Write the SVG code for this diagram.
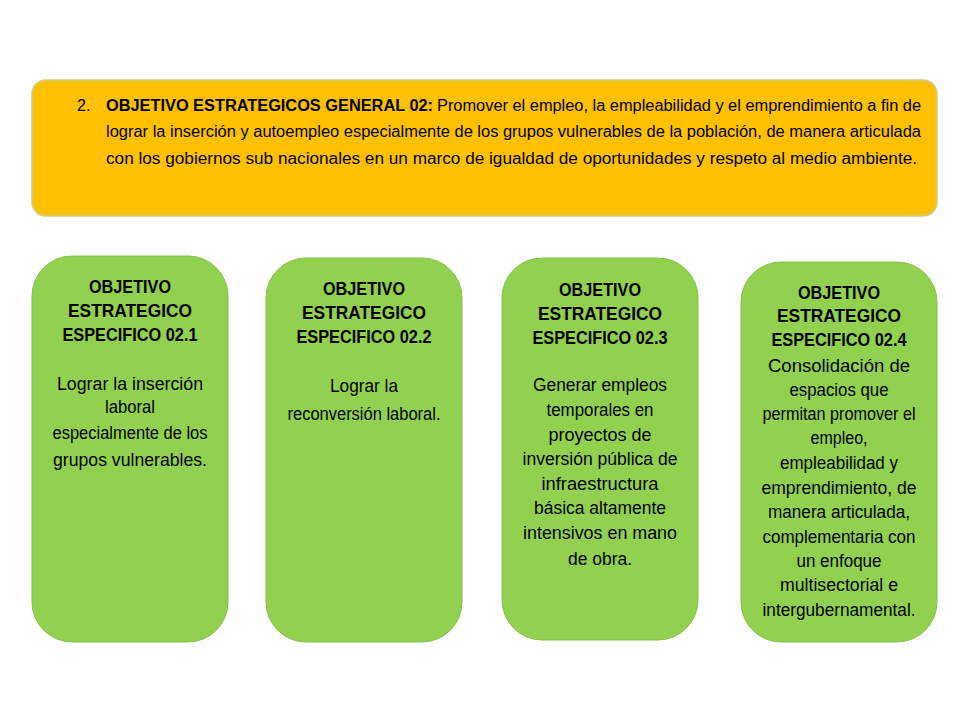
<svg xmlns="http://www.w3.org/2000/svg" width="960" height="720" viewBox="0 0 960 720">
<style>
.t{font-family:"Liberation Sans Narrow","Liberation Sans",Arial,sans-serif;fill:#000}
.top{font-size:16px}
.h{font-size:18px;font-weight:bold;text-anchor:middle}
.b{font-size:17.5px;text-anchor:middle}
.g{fill:#92D050;stroke:#86c04a;stroke-width:1}
</style>
<rect width="960" height="720" fill="#fff"/>
<g id="general">
<rect x="32" y="80" width="905" height="136" rx="14" fill="#FFC000" stroke="#c9cf8a" stroke-width="1.5"/>
<text class="t top" x="77" y="111">2.</text>
<text class="t top" x="106" y="111" font-weight="bold" textLength="327" lengthAdjust="spacingAndGlyphs">OBJETIVO ESTRATEGICOS GENERAL 02:</text>
<text class="t top" x="437" y="111" textLength="484" lengthAdjust="spacingAndGlyphs">Promover el empleo, la empleabilidad y el emprendimiento a fin de</text>
<text class="t top" x="106" y="137" textLength="815" lengthAdjust="spacingAndGlyphs">lograr la inserción y autoempleo especialmente de los grupos vulnerables de la población, de manera articulada</text>
<text class="t top" x="106" y="164" textLength="811" lengthAdjust="spacingAndGlyphs">con los gobiernos sub nacionales en un marco de igualdad de oportunidades y respeto al medio ambiente.</text>
</g>
<g id="oe21">
<rect class="g" x="32" y="256" width="196" height="386" rx="40"/>
<text class="t h" x="130" y="293" textLength="82" lengthAdjust="spacingAndGlyphs">OBJETIVO</text>
<text class="t h" x="130" y="317" textLength="124" lengthAdjust="spacingAndGlyphs">ESTRATEGICO</text>
<text class="t h" x="130" y="341" textLength="135" lengthAdjust="spacingAndGlyphs">ESPECIFICO 02.1</text>
<text class="t b" x="130" y="390" textLength="146" lengthAdjust="spacingAndGlyphs">Lograr la inserción</text>
<text class="t b" x="130" y="413" textLength="50" lengthAdjust="spacingAndGlyphs">laboral</text>
<text class="t b" x="130" y="439" textLength="155" lengthAdjust="spacingAndGlyphs">especialmente de los</text>
<text class="t b" x="130" y="466" textLength="154" lengthAdjust="spacingAndGlyphs">grupos vulnerables.</text>
</g>
<g id="oe22">
<rect class="g" x="266" y="258" width="196" height="384" rx="40"/>
<text class="t h" x="364" y="295" textLength="82" lengthAdjust="spacingAndGlyphs">OBJETIVO</text>
<text class="t h" x="364" y="319" textLength="124" lengthAdjust="spacingAndGlyphs">ESTRATEGICO</text>
<text class="t h" x="364" y="343" textLength="135" lengthAdjust="spacingAndGlyphs">ESPECIFICO 02.2</text>
<text class="t b" x="364" y="392" textLength="68" lengthAdjust="spacingAndGlyphs">Lograr la</text>
<text class="t b" x="364" y="420" textLength="153" lengthAdjust="spacingAndGlyphs">reconversión laboral.</text>
</g>
<g id="oe23">
<rect class="g" x="502" y="258" width="196" height="382" rx="40"/>
<text class="t h" x="600" y="296" textLength="82" lengthAdjust="spacingAndGlyphs">OBJETIVO</text>
<text class="t h" x="600" y="320" textLength="124" lengthAdjust="spacingAndGlyphs">ESTRATEGICO</text>
<text class="t h" x="600" y="344" textLength="135" lengthAdjust="spacingAndGlyphs">ESPECIFICO 02.3</text>
<text class="t b" x="600" y="391" textLength="134" lengthAdjust="spacingAndGlyphs">Generar empleos</text>
<text class="t b" x="600" y="416" textLength="107" lengthAdjust="spacingAndGlyphs">temporales en</text>
<text class="t b" x="600" y="441" textLength="103" lengthAdjust="spacingAndGlyphs">proyectos de</text>
<text class="t b" x="600" y="465" textLength="155" lengthAdjust="spacingAndGlyphs">inversión pública de</text>
<text class="t b" x="600" y="490" textLength="117" lengthAdjust="spacingAndGlyphs">infraestructura</text>
<text class="t b" x="600" y="514" textLength="132" lengthAdjust="spacingAndGlyphs">básica altamente</text>
<text class="t b" x="600" y="539" textLength="154" lengthAdjust="spacingAndGlyphs">intensivos en mano</text>
<text class="t b" x="600" y="565" textLength="64" lengthAdjust="spacingAndGlyphs">de obra.</text>
</g>
<g id="oe24">
<rect class="g" x="741" y="262" width="196" height="380" rx="40"/>
<text class="t h" x="839" y="299" textLength="82" lengthAdjust="spacingAndGlyphs">OBJETIVO</text>
<text class="t h" x="839" y="322" textLength="124" lengthAdjust="spacingAndGlyphs">ESTRATEGICO</text>
<text class="t h" x="839" y="346" textLength="135" lengthAdjust="spacingAndGlyphs">ESPECIFICO 02.4</text>
<text class="t b" x="839" y="372" textLength="142" lengthAdjust="spacingAndGlyphs">Consolidación de</text>
<text class="t b" x="839" y="396" textLength="99" lengthAdjust="spacingAndGlyphs">espacios que</text>
<text class="t b" x="839" y="420" textLength="153" lengthAdjust="spacingAndGlyphs">permitan promover el</text>
<text class="t b" x="839" y="444" textLength="57" lengthAdjust="spacingAndGlyphs">empleo,</text>
<text class="t b" x="839" y="469" textLength="118" lengthAdjust="spacingAndGlyphs">empleabilidad y</text>
<text class="t b" x="839" y="494" textLength="155" lengthAdjust="spacingAndGlyphs">emprendimiento, de</text>
<text class="t b" x="839" y="518" textLength="142" lengthAdjust="spacingAndGlyphs">manera articulada,</text>
<text class="t b" x="839" y="543" textLength="153" lengthAdjust="spacingAndGlyphs">complementaria con</text>
<text class="t b" x="839" y="567" textLength="85" lengthAdjust="spacingAndGlyphs">un enfoque</text>
<text class="t b" x="839" y="591" textLength="118" lengthAdjust="spacingAndGlyphs">multisectorial e</text>
<text class="t b" x="839" y="616" textLength="153" lengthAdjust="spacingAndGlyphs">intergubernamental.</text>
</g>
<g id="connectors"/>
</svg>
